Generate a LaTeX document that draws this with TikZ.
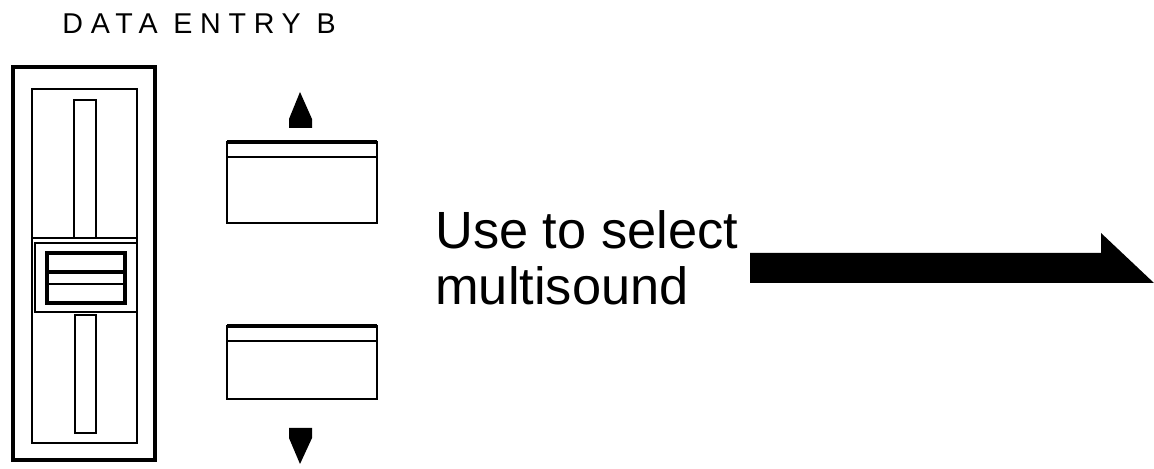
\documentclass[tikz,border=0pt]{standalone}
\usepackage{fontspec}
\setmainfont{Liberation Sans}
\usetikzlibrary{positioning}

\begin{document}
\begin{tikzpicture}[x=0.02cm, y=-0.02cm,
    heavy/.style={draw=black, line width=0.08cm},
    light/.style={draw=black, line width=0.055cm},
    keyface/.style={draw=black, line width=0.05cm}]
  \useasboundingbox (0,0) rectangle (1154,469);
  % Title
  \node[anchor=base west, inner sep=0pt, font=\fontsize{16.3}{19}\selectfont\addfontfeature{LetterSpace=27}] (title) at (62,34) {DATA ENTRY B};
  % Slider housing
  \draw[heavy] (13,67) rectangle (155,460);
  \draw[light] (32,89) rectangle (137,443);
  \draw[light] (32,238) -- (137,238);
  % Slot
  \draw[light] (74,100) rectangle (96,238);
  \draw[light] (75,315) rectangle (96,433);
  % Slider knob
  \draw[light, fill=white] (35,243) rectangle (137,312);
  \draw[heavy] (47,253) rectangle (125,303);
  \draw[heavy] (47,272) -- (125,272);
  \draw[light] (47,284) -- (125,284);
  % Up button
  \fill (300,92) -- (312,119) -- (312,128) -- (289,128) -- (289,119) -- cycle;
  \draw[keyface] (227,142) rectangle (377,223);
  \draw[heavy] (227,142) -- (377,142);
  \draw[keyface] (227,157) -- (377,157);
  % Down button
  \draw[keyface] (227,326) rectangle (377,399);
  \draw[heavy] (227,326) -- (377,326);
  \draw[keyface] (227,341) -- (377,341);
  \fill (289,428) -- (312,428) -- (312,438) -- (300,464) -- (289,438) -- cycle;
  % Hint (base = last line)
  \node[anchor=base west, inner sep=0pt, align=left, font=\fontsize{29.8}{32.4}\selectfont] (hint) at (435,305) {Use to select\\multisound};
  % Big arrow
  \fill (750,253) -- (1101,253) -- (1101,233) -- (1154,283) -- (750,283) -- cycle;
\end{tikzpicture}
\end{document}
